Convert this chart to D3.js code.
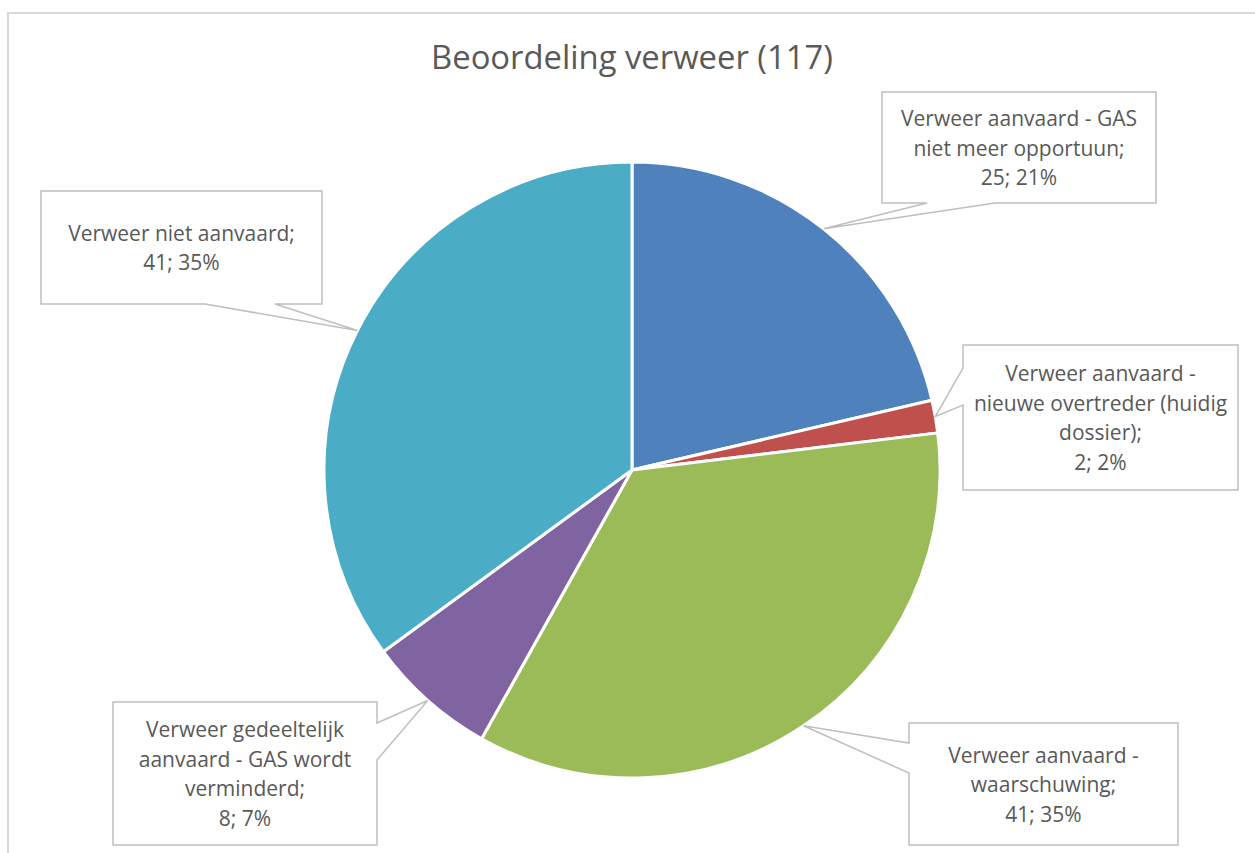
<!DOCTYPE html>
<html><head><meta charset="utf-8">
<script src="https://cdn.jsdelivr.net/npm/d3@7/dist/d3.min.js"></script>
<style>body{margin:0;background:#fff;overflow:hidden}</style>
</head><body>
<svg id="c" width="1255" height="853"></svg>
<script>
const title = "Beoordeling verweer (117)";
const categories = [
  "Verweer aanvaard - GAS niet meer opportuun",
  "Verweer aanvaard - nieuwe overtreder (huidig dossier)",
  "Verweer aanvaard - waarschuwing",
  "Verweer gedeeltelijk aanvaard - GAS wordt verminderd",
  "Verweer niet aanvaard"
];
const values = [25, 2, 41, 8, 41];
const colors = ["#4F81BD", "#C0504D", "#9BBB59", "#8064A2", "#4BACC6"];
const labelLines = [
  ["Verweer aanvaard - GAS", "niet meer opportuun;"],
  ["Verweer aanvaard -", "nieuwe overtreder (huidig", "dossier);"],
  ["Verweer aanvaard -", "waarschuwing;"],
  ["Verweer gedeeltelijk", "aanvaard - GAS wordt", "verminderd;"],
  ["Verweer niet aanvaard;"]
];
// callout box layout: [x, y, w, h], side of pointer, pointer base offsets along that side
const boxes = [
  {x: 882, y: 92,  w: 274, h: 111, side: "bottom", b: [927, 995]},
  {x: 963, y: 345, w: 275, h: 145, side: "left",   b: [368, 405]},
  {x: 909, y: 723, w: 269, h: 122, side: "left",   b: [743, 773]},
  {x: 113, y: 702, w: 264, h: 143, side: "right",  b: [723, 760]},
  {x: 41,  y: 191, w: 281, h: 113, side: "bottom", b: [205, 275]}
];

const svg = d3.select("#c");
const FONT = "'Open Sans', 'Noto Sans', sans-serif";
const TEXT = "#595959";

// chart border
svg.append("rect").attr("x", 8).attr("y", 13).attr("width", 1300).attr("height", 900)
  .attr("fill", "#fff").attr("stroke", "#d9d9d9").attr("stroke-width", 2);

svg.append("text").attr("x", 632).attr("y", 69).attr("text-anchor", "middle")
  .attr("font-family", FONT).attr("font-size", 32.8).attr("fill", TEXT).text(title);

const cx = 632, cy = 470, r = 308;
const total = d3.sum(values);
const pie = d3.pie().sort(null).value(d => d);
const arcs = pie(values);
const arc = d3.arc().innerRadius(0).outerRadius(r);
const g = svg.append("g").attr("transform", `translate(${cx},${cy})`);
g.selectAll("path").data(arcs).join("path")
  .attr("d", arc).attr("fill", (d, i) => colors[i])
  .attr("stroke", "#fff").attr("stroke-width", 3).attr("stroke-linejoin", "round");

const tipArc = d3.arc().innerRadius(r).outerRadius(r);

arcs.forEach((d, i) => {
  const bx = boxes[i];
  const [tx0, ty0] = tipArc.centroid(d);
  const tx = tx0 + cx, ty = ty0 + cy;
  const x0 = bx.x, y0 = bx.y, x1 = bx.x + bx.w, y1 = bx.y + bx.h;
  let pts;
  if (bx.side === "bottom") {
    pts = [[x0,y0],[x1,y0],[x1,y1],[bx.b[1],y1],[tx,ty],[bx.b[0],y1],[x0,y1]];
  } else if (bx.side === "left") {
    pts = [[x0,y0],[x1,y0],[x1,y1],[x0,y1],[x0,bx.b[1]],[tx,ty],[x0,bx.b[0]]];
  } else {
    pts = [[x0,y0],[x1,y0],[x1,bx.b[0]],[tx,ty],[x1,bx.b[1]],[x1,y1],[x0,y1]];
  }
  svg.append("path").attr("d", d3.line()(pts) + "Z")
    .attr("fill", "#fff").attr("stroke", "#bfbfbf").attr("stroke-width", 1.5);

  const pct = Math.round(values[i] / total * 100);
  const lines = labelLines[i].concat([`${values[i]}; ${pct}%`]);
  const lh = 29.5;
  const midY = bx.y + bx.h / 2;
  const t = svg.append("text").attr("text-anchor", "middle")
    .attr("font-family", FONT).attr("font-size", 21).attr("fill", TEXT);
  lines.forEach((ln, k) => {
    t.append("tspan").attr("x", bx.x + bx.w / 2)
      .attr("y", midY - (lines.length - 1) * lh / 2 + k * lh + 8).text(ln);
  });
});
</script>
</body></html>
